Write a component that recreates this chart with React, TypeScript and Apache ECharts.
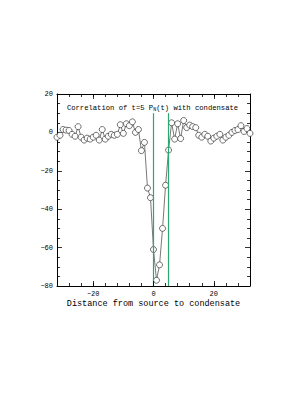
import React, { useEffect, useRef } from "react";
import * as echarts from "echarts";

const xValues = [
  -32, -31, -30, -29, -28, -27, -26, -25, -24, -23, -22, -21, -20, -19, -18, -17,
  -16, -15, -14, -13, -12, -11, -10, -9, -8, -7, -6, -5, -4, -3, -2, -1,
  0, 1, 2, 3, 4, 5, 6, 7, 8, 9, 10, 11, 12, 13, 14, 15,
  16, 17, 18, 19, 20, 21, 22, 23, 24, 25, 26, 27, 28, 29, 30, 31, 32,
];
const correlation = [
  -2.5, -1.5, 1.5, 1.2, 1.0, -1.0, -2.0, 3.0, -2.5, -4.0, -3.0, -3.5, -2.5, -1.5, -4.0, 1.5,
  -3.5, -2.0, -1.0, -1.5, -1.0, 4.0, -0.5, 4.5, 3.5, 5.5, 0.0, 1.5, -9.5, -5.2, -29.0, -34.0,
  -61.0, -77.0, -69.0, -50.0, -27.5, -9.2, 5.0, -3.5, 4.5, -3.2, 6.2, 2.5, 3.8, 3.0, 2.5, -1.5,
  -2.5, -1.0, -2.0, -4.5, -3.0, -2.0, -1.0, -4.0, -2.5, -1.5, 0.0, 1.0, 1.5, 3.5, 0.5, 2.0, -0.5,
];
const markerX = [0, 5];
const xMajorTicks = [-20, 0, 20];
const titleText = "Correlation of t=5 P{sub|N}(t) with condensate";
const xAxisTitle = "Distance from source to condensate";

const FONT = "Liberation Mono";
const Y_MIN = -80;
const Y_MAX = 20;
const GREEN = "#2fa66b";

function fmt(v: number): string {
  return v < 0 ? "\u2212" + Math.abs(v) : String(v);
}

export default function App() {
  const ref = useRef<HTMLDivElement>(null);
  useEffect(() => {
    if (!ref.current) return;
    const chart = echarts.init(ref.current, null, { renderer: "svg" });
    const line = { show: true, onZero: false, lineStyle: { color: "#000", width: 1 } };
    const tickStyle = { color: "#000", width: 0.8 };
    const baseX = {
      type: "value",
      min: -32,
      max: 32,
      interval: 4,
      splitLine: { show: false },
      axisLine: line,
      axisTick: { show: true, inside: true, length: 3, lineStyle: tickStyle },
    };
    const baseY = {
      type: "value",
      min: Y_MIN,
      max: Y_MAX,
      interval: 20,
      splitLine: { show: false },
      minorSplitLine: { show: false },
      axisLine: line,
      axisTick: { show: true, inside: true, length: 5, lineStyle: tickStyle },
      minorTick: { show: true, splitNumber: 4, length: 3, lineStyle: tickStyle },
    };
    const tickLen = 2.6;
    const majorTickSegs: any[] = [];
    xMajorTicks.forEach((x) => {
      majorTickSegs.push([{ coord: [x, Y_MIN] }, { coord: [x, Y_MIN + tickLen] }]);
      majorTickSegs.push([{ coord: [x, Y_MAX] }, { coord: [x, Y_MAX - tickLen] }]);
    });
    chart.setOption({
      animation: false,
      backgroundColor: "#fff",
      grid: { left: 57, right: 55, top: 94, bottom: 108, containLabel: false },
      xAxis: [
        {
          ...baseX,
          position: "bottom",
          axisLabel: { show: true, customValues: xMajorTicks, margin: 4, fontSize: 7, fontFamily: FONT, color: "#000", formatter: (v: number) => fmt(v) },
        },
        { ...baseX, position: "top", axisLabel: { show: false } },
      ],
      yAxis: [
        {
          ...baseY,
          position: "left",
          axisLabel: { show: true, margin: 4, fontSize: 7, fontFamily: FONT, color: "#000", formatter: (v: number) => fmt(v) },
        },
        { ...baseY, position: "right", axisLabel: { show: false } },
      ],
      graphic: [
        {
          type: "text",
          left: "center",
          top: 104,
          style: {
            text: titleText,
            fontFamily: FONT,
            fontSize: 7.2,
            fill: "#000",
            rich: {
              sub: { fontFamily: FONT, fontSize: 5, fill: "#000", padding: [4, 0, 0, 0] },
            },
          },
        },
        {
          type: "text",
          x: 153.5,
          y: 304,
          style: {
            text: xAxisTitle,
            fontFamily: FONT,
            fontSize: 8.5,
            fill: "#000",
            align: "center",
            verticalAlign: "middle",
          },
        },
      ],
      series: [
        {
          type: "line",
          xAxisIndex: 0,
          yAxisIndex: 0,
          z: 5,
          data: [],
          markLine: {
            silent: true,
            symbol: "none",
            label: { show: false },
            lineStyle: { color: GREEN, width: 1.2, type: "solid", opacity: 1 },
            emphasis: { disabled: true },
            data: markerX.map((x) => [
              { coord: [x, 10], lineStyle: { color: GREEN, width: 1.2 } },
              { coord: [x, Y_MIN] },
            ]),
          },
        },
        {
          type: "line",
          xAxisIndex: 0,
          yAxisIndex: 0,
          z: 2,
          data: [],
          markLine: {
            silent: true,
            symbol: "none",
            label: { show: false },
            lineStyle: { color: "#000", width: 0.8, type: "solid", opacity: 1 },
            emphasis: { disabled: true },
            data: majorTickSegs,
          },
        },
        {
          type: "line",
          xAxisIndex: 0,
          yAxisIndex: 0,
          z: 3,
          data: xValues.map((x, i) => [x, correlation[i]]),
          symbol: "circle",
          symbolSize: 6,
          showAllSymbol: true,
          lineStyle: { color: "#555", width: 0.8 },
          itemStyle: { color: "#fff", borderColor: "#333", borderWidth: 0.7 },
        },
      ],
    });
    return () => chart.dispose();
  }, []);
  return <div ref={ref} style={{ position: "fixed", left: 0, top: 0, width: 305, height: 394 }} />;
}
